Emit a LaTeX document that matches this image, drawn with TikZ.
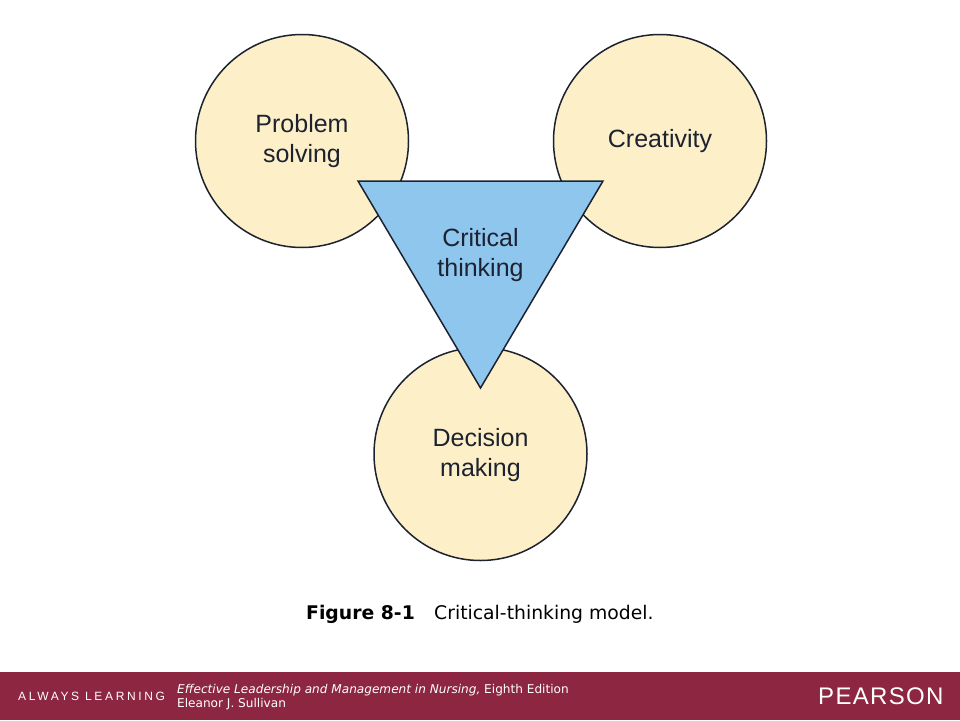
\documentclass[tikz,border=0pt]{standalone}
\usepackage{fontspec}
\setmainfont{Liberation Sans}
\newfontfamily\verd{DejaVu Sans}
\definecolor{cream}{HTML}{FDF0C8}
\definecolor{skyb}{HTML}{8FC6EE}
\definecolor{barred}{HTML}{8C2641}
\definecolor{inkk}{HTML}{1C2230}
\tikzset{
  circ/.style={circle,draw=inkk,line width=1.5pt,fill=cream,minimum size=213pt,inner sep=0pt},
  lab/.style={align=center,font=\fontsize{25}{30}\selectfont,text=inkk},
  captxt/.style={anchor=base west,font=\verd\fontsize{18.8}{22}\selectfont,text=black,inner sep=0pt},
  bartxt/.style={anchor=base west,text=white,inner sep=0pt}
}
\begin{document}
\begin{tikzpicture}[x=1pt,y=-1pt]
\useasboundingbox (0,0) rectangle (960,720);
\fill[white] (0,0) rectangle (960,720);
\node[circ] (ps) at (302,141) {};
\node[circ] (cr) at (660,141) {};
\node[circ] (dm) at (480.5,454) {};
\draw[draw=inkk,line width=1.5pt,fill=skyb,line join=miter] (358,181) -- (603,181) -- (480.5,388) -- cycle;
\node[lab] (t1) at (302,141.5) {Problem\\solving};
\node[lab] (t2) at (660,141.5) {Creativity};
\node[lab] (t3) at (480.5,255.5) {Critical\\thinking};
\node[lab] (t4) at (480.5,455.5) {Decision\\making};
\node[captxt] (c1) at (306,619.5) {\bfseries Figure 8-1};
\node[captxt] (c2) at (434,619.5) {Critical-thinking model.};
\fill[barred] (0,672) rectangle (960,720);
\node[bartxt,font=\fontsize{12}{14}\selectfont\addfontfeature{LetterSpace=22}] (al) at (18,700) {ALWAYS LEARNING};
\node[bartxt,font=\verd\fontsize{12.1}{14}\selectfont] (b1) at (177,693) {\textit{Effective Leadership and Management in Nursing,} Eighth Edition};
\node[bartxt,font=\verd\fontsize{12.1}{14}\selectfont] (b2) at (177,707) {Eleanor J. Sullivan};
\node[bartxt,font=\fontsize{24}{28}\selectfont\addfontfeature{LetterSpace=5.5}] (pe) at (818,704) {PEARSON};
\end{tikzpicture}
\end{document}
